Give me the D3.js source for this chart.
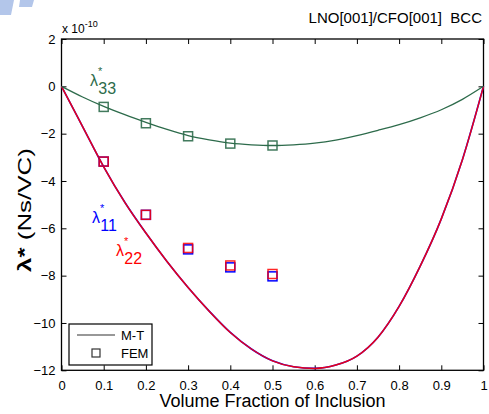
<!doctype html>
<html lang="en">
<head>
    <title>Magnetoelectric coefficient vs volume fraction</title>
    <script src='https://d3js.org/d3.v7.min.js'></script>
    <style>
        body { margin: 0; background: #fff; }
        text { font-family: "Liberation Sans", Arial, sans-serif; }
    </style>
</head>

<body>
    <script>
        // M-T curves, sampled every 0.05 of volume fraction (values in 1e-10 Ns/VC)
        var mtFraction = [0, 0.05, 0.1, 0.15, 0.2, 0.25, 0.3, 0.35, 0.4, 0.45, 0.5,
                          0.55, 0.6, 0.65, 0.7, 0.75, 0.8, 0.85, 0.9, 0.95, 1];
        var mtLambda11 = [0, -1.7, -3.4, -4.9, -6.2, -7.4, -8.5, -9.5, -10.4, -11.1, -11.6,
                          -11.85, -11.92, -11.78, -11.4, -10.6, -9.3, -7.6, -5.6, -3.1, 0];
        var mtLambda22 = [0, -1.7, -3.4, -4.9, -6.2, -7.4, -8.5, -9.5, -10.4, -11.1, -11.6,
                          -11.85, -11.92, -11.78, -11.4, -10.6, -9.3, -7.6, -5.6, -3.1, 0];
        var mtLambda33 = [0, -0.45, -0.85, -1.2, -1.52, -1.82, -2.08, -2.26, -2.4, -2.47, -2.5,
                          -2.47, -2.4, -2.27, -2.08, -1.86, -1.62, -1.33, -0.99, -0.55, 0];

        // FEM results
        var femFraction = [0.1, 0.2, 0.3, 0.4, 0.5];
        var femLambda11 = [-3.18, -5.43, -6.89, -7.65, -8.03];
        var femLambda22 = [-3.18, -5.43, -6.83, -7.57, -7.93];
        var femLambda33 = [-0.87, -1.56, -2.11, -2.42, -2.5];

        var xTicks = [0, 0.1, 0.2, 0.3, 0.4, 0.5, 0.6, 0.7, 0.8, 0.9, 1];
        var yTicks = [2, 0, -2, -4, -6, -8, -10, -12];

        var width = 489,
            height = 414,
            margin = {top: 39, right: 5.5, bottom: 43.7, left: 61.5};
        var w = width - margin.left - margin.right,
            h = height - margin.top - margin.bottom;

        var blue = "#0000ff", red = "#ff0000", green = "#2d6b4b";

        var svg = d3.select("body").append("svg")
            .attr("width", width)
            .attr("height", height);

        // faint watermark in the corner
        svg.append("path")
            .attr("d", "M0,0 L14,0 L11,15 L0,15 Z M20,0 L34,0 L32,7 L19,7 Z")
            .attr("fill", "#b3c6ea");

        var g = svg.append("g")
            .attr("transform", "translate(" + margin.left + "," + margin.top + ")");

        var x = d3.scaleLinear().domain([0, 1]).range([0, w]);
        var y = d3.scaleLinear().domain([-12, 2]).range([h, 0]);

        // axes with inward ticks on all four sides
        function styleAxis(sel) {
            sel.select(".domain").remove();
            sel.selectAll("line").attr("stroke", "#000");
            sel.selectAll("text").attr("font-size", 13).attr("fill", "#000");
        }

        g.append("g")
            .attr("transform", "translate(0," + h + ")")
            .call(d3.axisBottom(x).tickValues(xTicks).tickSize(-5).tickPadding(10)
                .tickFormat(function (d) { return d === 0 || d === 1 ? d3.format("d")(d) : d3.format(".1f")(d); }))
            .call(styleAxis);
        g.append("g")
            .call(d3.axisTop(x).tickValues(xTicks).tickSize(-5).tickFormat(""))
            .call(styleAxis);
        g.append("g")
            .call(d3.axisLeft(y).tickValues(yTicks).tickSize(-5).tickPadding(6))
            .call(styleAxis);
        g.append("g")
            .attr("transform", "translate(" + w + ",0)")
            .call(d3.axisRight(y).tickValues(yTicks).tickSize(-5).tickFormat(""))
            .call(styleAxis);

        g.append("rect")
            .attr("width", w)
            .attr("height", h)
            .attr("fill", "none")
            .attr("stroke", "#000")
            .attr("stroke-width", 1.3);

        // M-T curves
        var line = d3.line()
            .x(function (d) { return x(d[0]); })
            .y(function (d) { return y(d[1]); })
            .curve(d3.curveMonotoneX);

        function drawCurve(vals, color, width, opacity) {
            g.append("path")
                .datum(d3.zip(mtFraction, vals))
                .attr("d", line)
                .attr("fill", "none")
                .attr("stroke", color)
                .attr("stroke-width", width)
                .attr("stroke-opacity", opacity);
        }
        drawCurve(mtLambda11, blue, 1.6, 1);
        drawCurve(mtLambda22, red, 1.5, 0.9);
        drawCurve(mtLambda33, green, 1.3, 1);

        // FEM squares
        var sq = 9;
        function drawSquares(vals, color, opacity) {
            g.append("g").selectAll("rect")
                .data(d3.zip(femFraction, vals))
                .join("rect")
                .attr("x", function (d) { return x(d[0]) - sq / 2; })
                .attr("y", function (d) { return y(d[1]) - sq / 2; })
                .attr("width", sq)
                .attr("height", sq)
                .attr("fill", "none")
                .attr("stroke", color)
                .attr("stroke-width", 1.5)
                .attr("stroke-opacity", opacity);
        }
        drawSquares(femLambda11, blue, 1);
        drawSquares(femLambda22, red, 0.85);
        drawSquares(femLambda33, green, 0.9);

        // curve labels  λ*_ij, star and subscript in one text
        function lambdaLabel(px, py, sub, color) {
            var t = svg.append("text")
                .attr("x", px)
                .attr("y", py)
                .attr("fill", color)
                .attr("font-size", 16);
            t.append("tspan").text("λ");
            t.append("tspan").attr("dx", 0).attr("dy", -11).attr("font-size", 11).text("*");
            t.append("tspan").attr("dx", -4).attr("dy", 19).text(sub);
        }
        lambdaLabel(90, 86, "33", green);
        lambdaLabel(92, 223, "11", blue);
        lambdaLabel(116, 256, "22", red);

        // title and exponent
        svg.append("text")
            .attr("x", 482)
            .attr("y", 23)
            .attr("text-anchor", "end")
            .attr("font-size", 15)
            .attr("xml:space", "preserve")
            .text("LNO[001]/CFO[001]  BCC");

        var ex = svg.append("text")
            .attr("x", 62)
            .attr("y", 33)
            .attr("font-size", 12);
        ex.append("tspan").text("x 10");
        ex.append("tspan").attr("dy", -6).attr("font-size", 9).text("-10");

        // axis titles
        svg.append("text")
            .attr("x", margin.left + w / 2)
            .attr("y", 407)
            .attr("text-anchor", "middle")
            .attr("font-size", 18)
            .text("Volume Fraction of Inclusion");

        var yl = svg.append("text")
            .attr("transform", "translate(31,210) rotate(-90)")
            .attr("text-anchor", "middle")
            .attr("font-size", 18)
            .attr("textLength", 124)
            .attr("lengthAdjust", "spacingAndGlyphs");
        yl.append("tspan").attr("font-weight", "bold").text("λ*");
        yl.append("tspan").text(" (Ns/VC)");

        // legend
        var lg = svg.append("g").attr("transform", "translate(69,324)");
        lg.append("rect")
            .attr("width", 83)
            .attr("height", 41)
            .attr("fill", "#fff")
            .attr("stroke", "#000")
            .attr("stroke-width", 1.2);
        lg.append("line")
            .attr("x1", 8).attr("x2", 46)
            .attr("y1", 11).attr("y2", 11)
            .attr("stroke", "#333")
            .attr("stroke-width", 1.2);
        lg.append("rect")
            .attr("x", 23).attr("y", 25)
            .attr("width", 8).attr("height", 8)
            .attr("fill", "none")
            .attr("stroke", "#333")
            .attr("stroke-width", 1.2);
        lg.append("text").attr("x", 52).attr("y", 16).attr("font-size", 13).text("M-T");
        lg.append("text").attr("x", 52).attr("y", 34).attr("font-size", 13).text("FEM");
    </script>
</body>
</html>
